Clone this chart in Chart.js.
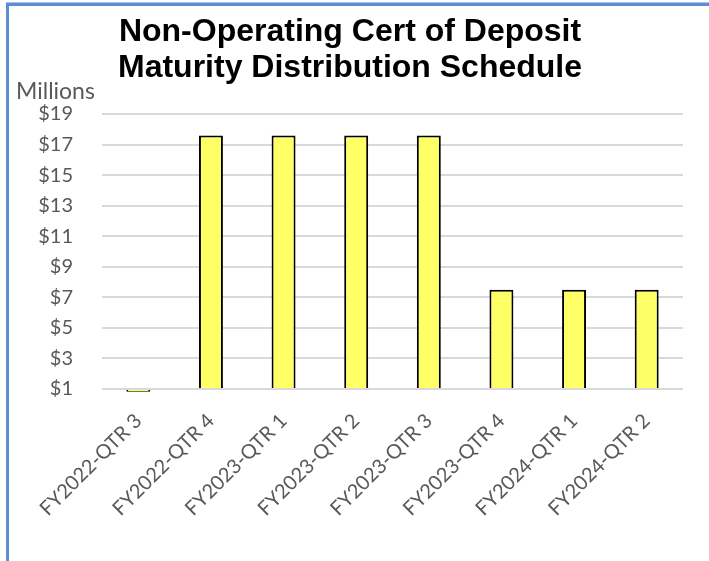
<!DOCTYPE html>
<html>
<head>
<meta charset="utf-8">
<script src="https://cdn.jsdelivr.net/npm/chart.js@4/dist/chart.umd.min.js"></script>
<style>
  html, body { margin: 0; padding: 0; background: #fff; }
  #wrap { position: relative; width: 709px; height: 561px; }
  #frame { position: absolute; left: 6px; top: 3px; right: 0; bottom: 0;
           border-left: 3px solid #5B8ED6; border-top: 3px solid #5B8ED6;
           box-shadow: 0 -1px 0 #A9C4EA; pointer-events: none; }
</style>
</head>
<body>
<div id="wrap">
  <canvas id="c" width="709" height="561"></canvas>
  <div id="frame"></div>
</div>
<script>
const categories = ["FY2022-QTR 3", "FY2022-QTR 4", "FY2023-QTR 1", "FY2023-QTR 2",
                    "FY2023-QTR 3", "FY2023-QTR 4", "FY2024-QTR 1", "FY2024-QTR 2"];
const maturities = [0.82, 17.6, 17.6, 17.6, 17.6, 7.5, 7.5, 7.5];
const yTickMin = 1;
const yTickMax = 19;
const yTickStep = 2;
const titleLines = ["Non-Operating Cert of Deposit", "Maturity Distribution Schedule"];
const unitLabel = "Millions";

const tickFont = { family: "Lato, 'Open Sans', sans-serif", size: 20 };
const xTickFont = { family: "Lato, 'Open Sans', sans-serif", size: 20 };
const tickColor = "#595959";

const unitPlugin = {
  id: 'unitLabel',
  afterDraw(chart) {
    const ctx = chart.ctx;
    ctx.save();
    ctx.font = "23px Lato, 'Open Sans', sans-serif";
    ctx.fillStyle = tickColor;
    ctx.textAlign = 'left';
    ctx.textBaseline = 'alphabetic';
    ctx.fillText(unitLabel, 16, 99);
    ctx.restore();
  }
};

new Chart(document.getElementById('c'), {
  type: 'bar',
  data: {
    labels: categories,
    datasets: [{
      data: maturities,
      base: yTickMin,
      backgroundColor: '#FFFF66',
      borderColor: '#000000',
      borderWidth: 2,
      barPercentage: 0.33,
      categoryPercentage: 1,
      clip: false
    }]
  },
  options: {
    responsive: false,
    animation: false,
    devicePixelRatio: 1,
    layout: { padding: { left: 17, right: 26, top: 0, bottom: 0 } },
    plugins: {
      legend: { display: false },
      tooltip: { enabled: false },
      title: {
        display: true,
        text: titleLines,
        color: '#000000',
        font: { family: "'Liberation Sans', Arial, sans-serif", size: 32, weight: 'bold', lineHeight: 1.125 },
        padding: { top: 14, bottom: 28 }
      }
    },
    scales: {
      x: {
        grid: { display: false, drawTicks: false },
        border: { display: false },
        ticks: {
          font: xTickFont, color: tickColor,
          minRotation: 45, maxRotation: 45, autoSkip: false, padding: 20
        },
        afterFit(scale) { scale.height = 172; }
      },
      y: {
        min: yTickMin, max: yTickMax,
        grid: { color: '#D9D9D9', lineWidth: 2, drawTicks: false },
        border: { display: false },
        ticks: {
          stepSize: yTickStep,
          font: tickFont, color: tickColor, padding: 29,
          callback: v => '$' + v
        },
        afterFit(scale) { scale.width = 85; }
      }
    }
  },
  plugins: [unitPlugin]
});
</script>
</body>
</html>
